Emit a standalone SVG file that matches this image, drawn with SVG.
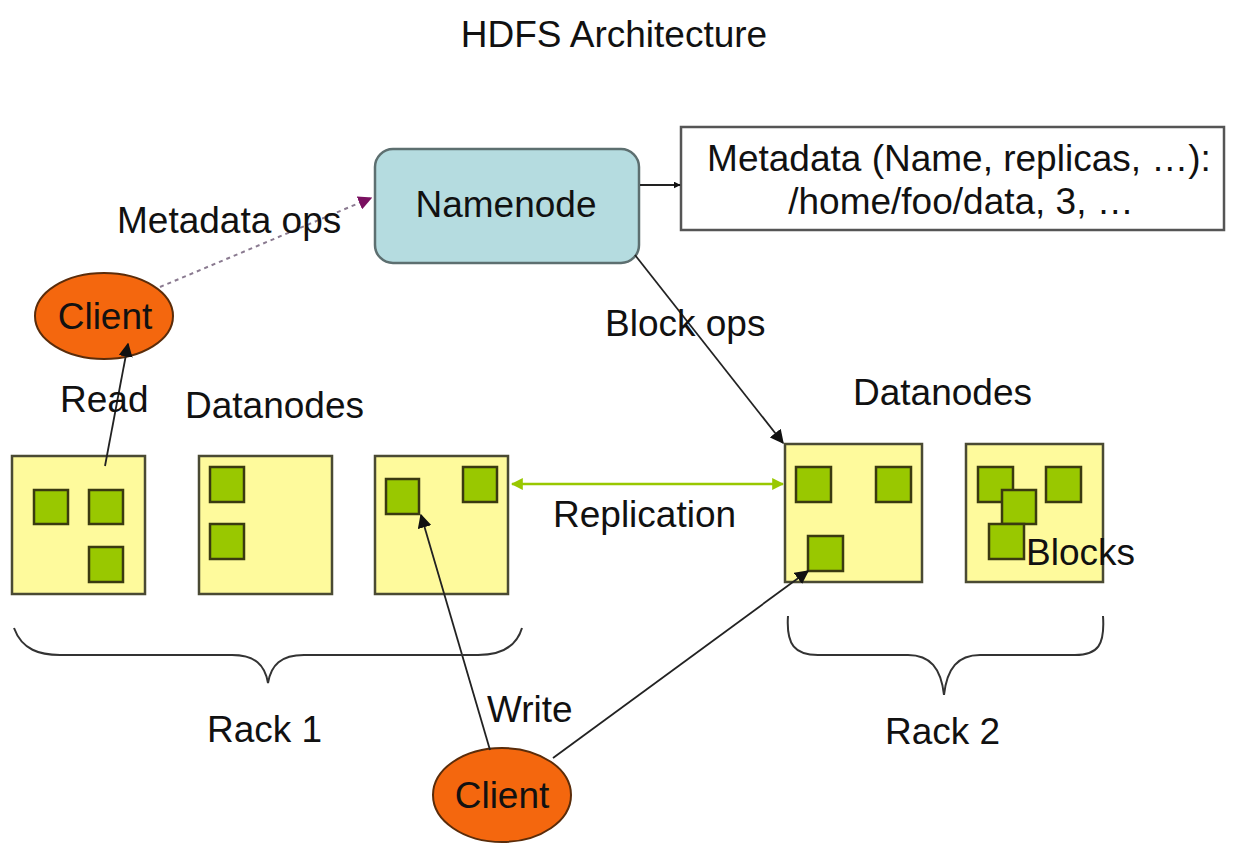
<svg xmlns="http://www.w3.org/2000/svg" width="1243" height="861" viewBox="0 0 1243 861">
<style>
text{font-family:"Liberation Sans",Arial,sans-serif;font-size:37px;fill:#111;}
.mid{text-anchor:middle;}
.dn{fill:#fefa9c;stroke:#4a4a33;stroke-width:2.5;}
.blk{fill:#99c800;stroke:#3a3a10;stroke-width:2.5;}
.client{fill:#f4670e;stroke:#5a2c0a;stroke-width:2;}
.conn{fill:none;stroke:#222;stroke-width:1.8;}
.brace{fill:none;stroke:#333;stroke-width:2;}
</style>
<defs>
<marker id="ah" viewBox="0 0 10 10" refX="9" refY="5" markerWidth="7" markerHeight="7" markerUnits="userSpaceOnUse" orient="auto"><path d="M0,0 L10,5 L0,10 z" fill="#111"/></marker>
<marker id="ahBig" viewBox="0 0 10 10" refX="9" refY="5" markerWidth="14" markerHeight="14" markerUnits="userSpaceOnUse" orient="auto"><path d="M0,0 L10,5 L0,10 z" fill="#111"/></marker>
<marker id="ahP" viewBox="0 0 10 10" refX="9" refY="5" markerWidth="14" markerHeight="14" markerUnits="userSpaceOnUse" orient="auto"><path d="M0,0 L10,5 L0,10 z" fill="#7a1060"/></marker>
<marker id="ahG" viewBox="0 0 10 10" refX="9" refY="5" markerWidth="12" markerHeight="12" markerUnits="userSpaceOnUse" orient="auto-start-reverse"><path d="M0,0 L10,5 L0,10 z" fill="#99c800"/></marker>
</defs>
<rect width="1243" height="861" fill="#fff"/>
<text id="title" class="mid" x="614" y="47">HDFS Architecture</text>

<g id="namenode">
<rect x="375" y="149" width="264" height="114" rx="18" fill="#b5dce0" stroke="#5d6f70" stroke-width="2.5"/>
<text class="mid" x="506" y="217">Namenode</text>
</g>

<g id="metadata">
<rect x="681" y="127" width="543" height="103" fill="#fff" stroke="#555" stroke-width="2.5"/>
<text class="mid" x="959" y="171">Metadata (Name, replicas, …):</text>
<text class="mid" x="961" y="214">/home/foo/data, 3, …</text>
</g>

<g id="client-top">
<ellipse class="client" cx="104" cy="316" rx="69" ry="43"/>
<text class="mid" x="105" y="329">Client</text>
</g>

<g id="client-bottom">
<ellipse class="client" cx="502" cy="795" rx="69" ry="47"/>
<text class="mid" x="502" y="808">Client</text>
</g>

<g id="rack1">
<g id="dn1">
<rect class="dn" x="12" y="456" width="133" height="138"/>
<rect class="blk" x="34" y="490" width="34" height="34"/>
<rect class="blk" x="89" y="490" width="34" height="34"/>
<rect class="blk" x="89" y="547" width="34" height="35"/>
</g>
<g id="dn2">
<rect class="dn" x="199" y="456" width="133" height="138"/>
<rect class="blk" x="210" y="467" width="34" height="35"/>
<rect class="blk" x="210" y="524" width="34" height="35"/>
</g>
<g id="dn3">
<rect class="dn" x="375" y="456" width="133" height="138"/>
<rect class="blk" x="386" y="479" width="33" height="35"/>
<rect class="blk" x="463" y="467" width="34" height="35"/>
</g>
</g>

<g id="rack2">
<g id="dn4">
<rect class="dn" x="785" y="444" width="137" height="138"/>
<rect class="blk" x="796" y="467" width="35" height="35"/>
<rect class="blk" x="876" y="467" width="35" height="35"/>
<rect class="blk" x="808" y="536" width="35" height="35"/>
</g>
<g id="dn5">
<rect class="dn" x="966" y="444" width="137" height="138"/>
<rect class="blk" x="978" y="467" width="35" height="35"/>
<rect class="blk" x="1046" y="467" width="35" height="35"/>
<rect class="blk" x="1002" y="490" width="34" height="34"/>
<rect class="blk" x="989" y="524" width="35" height="35"/>
</g>
</g>

<g id="connectors">
<line class="conn" x1="640" y1="185" x2="680" y2="185" marker-end="url(#ah)"/>
<line x1="160" y1="287" x2="371" y2="198" stroke="#8a7a90" stroke-width="2" stroke-dasharray="4,4" marker-end="url(#ahP)"/>
<line class="conn" x1="105" y1="466" x2="128" y2="344" marker-end="url(#ahBig)"/>
<line class="conn" x1="635" y1="255" x2="783" y2="443" marker-end="url(#ahBig)"/>
<line x1="512" y1="484" x2="783" y2="484" stroke="#99c800" stroke-width="2.5" marker-start="url(#ahG)" marker-end="url(#ahG)"/>
<line class="conn" x1="490" y1="750" x2="421" y2="515" marker-end="url(#ahBig)"/>
<line class="conn" x1="553" y1="758" x2="808" y2="571" marker-end="url(#ahBig)"/>
</g>

<g id="braces">
<path class="brace" d="M14,628 C22,650 40,655 60,655 L232,655 C255,655 265,665 268,683 C271,665 281,655 304,655 L478,655 C500,655 516,648 522,628"/>
<path class="brace" d="M788,616 C786,645 795,655 818,655 L908,655 C930,655 941,668 944,695 C947,668 958,655 980,655 L1075,655 C1098,655 1105,645 1103,616"/>
</g>

<g id="labels">
<text x="117" y="233">Metadata ops</text>
<text x="605" y="336">Block ops</text>
<text x="60" y="412">Read</text>
<text x="185" y="418">Datanodes</text>
<text x="853" y="405">Datanodes</text>
<text x="553" y="527">Replication</text>
<text x="1026" y="565">Blocks</text>
<text x="487" y="722">Write</text>
<text x="207" y="742">Rack 1</text>
<text x="885" y="744">Rack 2</text>
</g>
</svg>
